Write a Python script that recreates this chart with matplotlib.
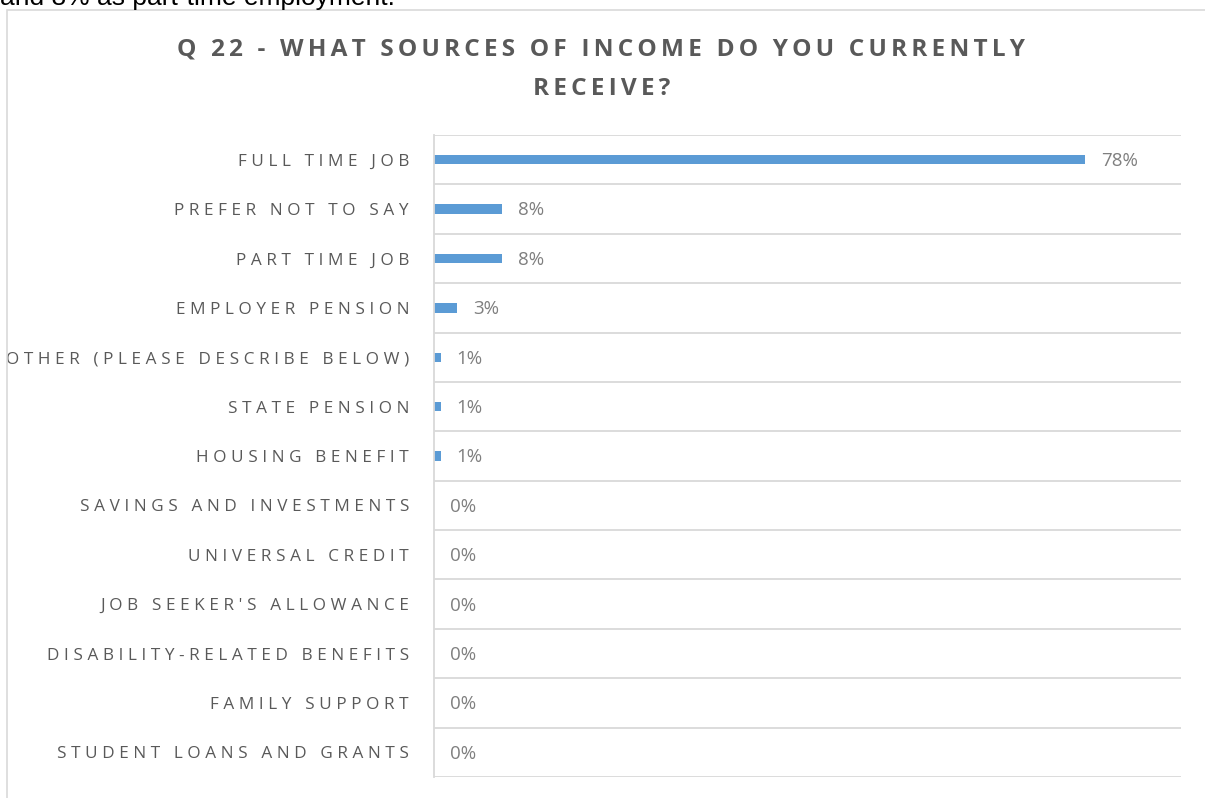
import matplotlib.pyplot as plt
from matplotlib.patches import Rectangle

# survey answers, top to bottom
categories = ["FULL TIME JOB", "PREFER NOT TO SAY", "PART TIME JOB", "EMPLOYER PENSION",
              "OTHER (PLEASE DESCRIBE BELOW)", "STATE PENSION", "HOUSING BENEFIT",
              "SAVINGS AND INVESTMENTS", "UNIVERSAL CREDIT", "JOB SEEKER'S ALLOWANCE",
              "DISABILITY-RELATED BENEFITS", "FAMILY SUPPORT", "STUDENT LOANS AND GRANTS"]
values = [78.4, 8.2, 8.2, 2.8, 0.8, 0.8, 0.8, 0, 0, 0, 0, 0, 0]
labels = ["78%", "8%", "8%", "3%", "1%", "1%", "1%", "0%", "0%", "0%", "0%", "0%", "0%"]

title = "Q 22 - WHAT SOURCES OF INCOME DO YOU CURRENTLY\nRECEIVE?"
caption = "and 8% as part-time employment."

FONT = ["Open Sans", "DejaVu Sans"]
BAR = "#5B9BD5"
GRID = "#D9D9D9"


def spaced(s, gap="\u2009"):
    # fake the letter spacing of the original chart
    return "\n".join(gap.join(line) for line in s.split("\n"))


fig = plt.figure(figsize=(12.05, 7.98), dpi=100)
fig.patch.set_facecolor("white")

# chart frame, cut off on the right and bottom like the screenshot
fig.patches.append(Rectangle((7 / 1205, -0.05), 1.2, 1 - 10 / 798 + 0.05,
                             transform=fig.transFigure, fill=False,
                             edgecolor=GRID, linewidth=1.2))

# leftover text from the page above the chart
fig.text(0.0, 1 - 5 / 798, caption, fontsize=19, family="Liberation Sans",
         color="black", ha="left", va="baseline")

fig.text(0.499, 1 - 69 / 798, spaced(title, "\u2006"), fontsize=17.6, fontweight="bold",
         family=FONT, color="#595959", ha="center", va="center", linespacing=1.85)

ax = fig.add_axes([434 / 1205, 1 - 777 / 798, (1181 - 434) / 1205, (777 - 135) / 798])
y = list(range(len(categories)))
ax.barh(y, values, height=0.19, color=BAR)
ax.set_xlim(0, 90)
ax.set_ylim(len(categories) - 0.5, -0.5)

for yi, v, lab in zip(y, values, labels):
    ax.annotate(lab, (v, yi), xytext=(11.5, -1), textcoords="offset points",
                va="center", ha="left", fontsize=13.5, color="#7F7F7F", family=FONT)

ax.set_yticks(y)
ax.set_yticklabels([spaced(c, "\u2009\u200a") for c in categories], fontsize=12.3,
                   color="#595959", family=FONT)
ax.tick_params(axis="y", length=0, pad=18)
ax.set_xticks([])
ax.set_yticks([i + 0.5 for i in range(-1, len(categories))], minor=True)
ax.tick_params(axis="y", which="minor", length=0)
ax.grid(axis="y", which="minor", color=GRID, linewidth=1.3)
ax.set_axisbelow(True)

for side in ["top", "right", "bottom"]:
    ax.spines[side].set_visible(False)
ax.spines["left"].set_color(GRID)
ax.spines["left"].set_linewidth(1.3)

fig.savefig("out.png", dpi=100)
